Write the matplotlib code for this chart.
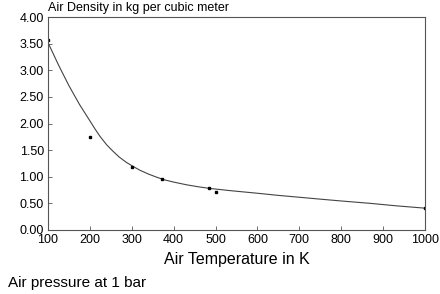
import matplotlib
matplotlib.use("Agg")
import matplotlib.pyplot as plt

plt.rcParams['font.family'] = ['Liberation Sans', 'DejaVu Sans']

# measured points
temp_pts = [100, 200, 300, 373, 485, 500, 1000]
dens_pts = [3.56, 1.75, 1.18, 0.95, 0.78, 0.71, 0.42]

# fitted curve
curve_t = [100, 125, 150, 175, 200, 212, 224, 240, 255, 270, 287, 304, 320, 340, 360,
           379, 400, 430, 460, 487, 534, 600, 650, 700, 749, 800, 870, 930, 1000]
curve_d = [3.52, 3.10, 2.71, 2.36, 2.05, 1.90, 1.76, 1.60, 1.48, 1.37, 1.27, 1.19, 1.12, 1.05, 0.99,
           0.94, 0.90, 0.85, 0.81, 0.78, 0.74, 0.69, 0.65, 0.615, 0.58, 0.545, 0.50, 0.455, 0.41]

xticks = [100, 200, 300, 400, 500, 600, 700, 800, 900, 1000]
yticks = [0, 0.5, 1.0, 1.5, 2.0, 2.5, 3.0, 3.5, 4.0]

fig = plt.figure(figsize=(4.4, 2.94), dpi=100)
ax = fig.add_axes([48/440, 1-230/294, 377/440, 213/294])

ax.plot(curve_t, curve_d, color='#444444', lw=0.8)
ax.plot(temp_pts, dens_pts, linestyle='', marker='s', markersize=1.8, color='black')

ax.set_xlim(100, 1000)
ax.set_ylim(0, 4)
ax.set_xticks(xticks)
ax.set_yticks(yticks)
ax.set_yticklabels(['%.2f' % v for v in yticks])
ax.tick_params(direction='in', length=3, width=0.6, color='#555555', labelsize=9, pad=3)
for s in ax.spines.values():
    s.set_color('#555555')
    s.set_linewidth(0.8)

ax.set_xlabel('Air Temperature in K', fontsize=11.5, labelpad=4)
fig.text(48/440, 1-8/294, 'Air Density in kg per cubic meter', fontsize=9, va='center')
fig.text(8/440, 1-283/294, 'Air pressure at 1 bar', fontsize=11, va='center')

fig.savefig('out.png', dpi=100)
